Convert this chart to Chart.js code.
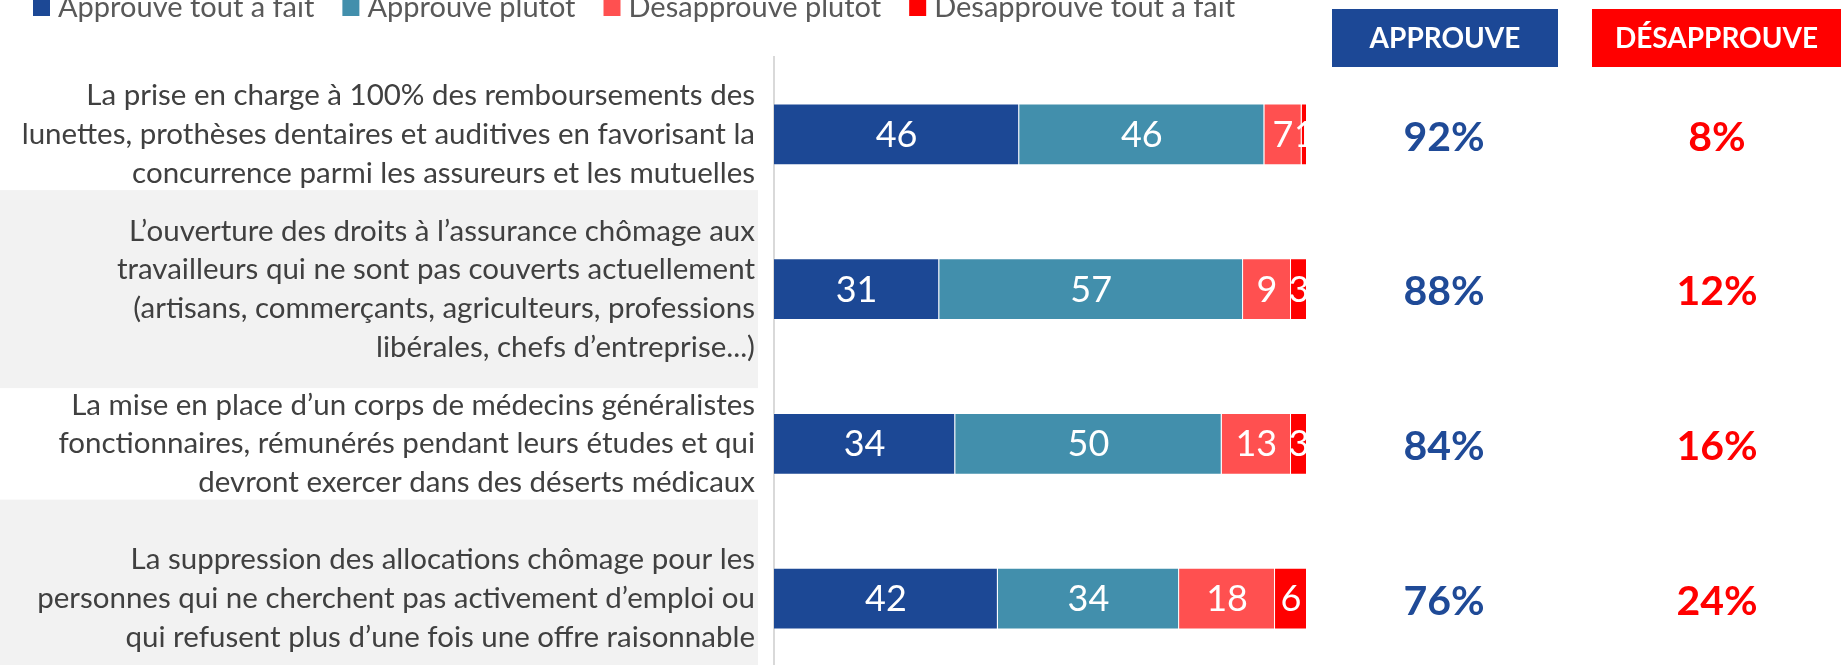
<!DOCTYPE html>
<html>
<head>
<meta charset="utf-8">
<script src="https://cdn.jsdelivr.net/npm/chart.js@4.4.1/dist/chart.umd.min.js"></script>
<style>
  html, body { margin: 0; padding: 0; background: #ffffff; overflow: hidden; }
  #wrap { position: relative; width: 1841px; height: 665px; overflow: hidden; }
  #c { position: absolute; left: 0; top: 0; }
</style>
</head>
<body>
<div id="wrap"><canvas id="c" width="1841" height="676"></canvas></div>
<script>
const categories = [
  ["La prise en charge à 100% des remboursements des", "lunettes, prothèses dentaires et auditives en favorisant la", "concurrence parmi les assureurs et les mutuelles"],
  ["L’ouverture des droits à l’assurance chômage aux", "travailleurs qui ne sont pas couverts actuellement", "(artisans, commerçants, agriculteurs, professions", "libérales, chefs d’entreprise...)"],
  ["La mise en place d’un corps de médecins généralistes", "fonctionnaires, rémunérés pendant leurs études et qui", "devront exercer dans des déserts médicaux"],
  ["La suppression des allocations chômage pour les", "personnes qui ne cherchent pas activement d’emploi ou", "qui refusent plus d’une fois une offre raisonnable"]
];
const seriesNames = ["Approuve tout a fait", "Approuve plutot", "Desapprouve plutot", "Desapprouve tout a fait"];
const approuveToutAFait = [46, 31, 34, 42];
const approuvePlutot = [46, 57, 50, 34];
const desapprouvePlutot = [7, 9, 13, 18];
const desapprouveToutAFait = [1, 3, 3, 6];
const totalApprouve = [92, 88, 84, 76];
const totalDesapprouve = [8, 12, 16, 24];
const headerLabels = ["APPROUVE", "DÉSAPPROUVE"];

const COLORS = ["#1C4895", "#428FAC", "#FF5050", "#FF0000"];
const BLUE_TEXT = "#1F4A97";
const RED_TEXT = "#FF0000";
const FONT = "Lato, 'Open Sans', sans-serif";

const seriesValues = [approuveToutAFait, approuvePlutot, desapprouvePlutot, desapprouveToutAFait];

const stripePlugin = {
  id: 'stripes',
  beforeDraw(chart) {
    const ctx = chart.ctx;
    const y = chart.scales.y;
    ctx.save();
    ctx.fillStyle = "#F2F2F2";
    [1, 3].forEach(i => {
      const cy = y.getPixelForValue(i);
      ctx.fillRect(0, cy - 99, 758, 198);
    });
    ctx.restore();
  }
};

const valueLabelPlugin = {
  id: 'valueLabels',
  afterDatasetsDraw(chart) {
    const ctx = chart.ctx;
    const area = chart.chartArea;
    ctx.save();
    ctx.beginPath();
    ctx.rect(area.left, area.top, area.right - area.left, area.bottom - area.top);
    ctx.clip();
    ctx.fillStyle = "#FFFFFF";
    ctx.font = "36px " + FONT;
    ctx.textAlign = "center";
    ctx.textBaseline = "middle";
    chart.data.datasets.forEach((ds, di) => {
      const meta = chart.getDatasetMeta(di);
      meta.data.forEach((el, i) => {
        const v = ds.data[i];
        const cx = (el.x + el.base) / 2;
        ctx.fillText(String(v), cx, el.y + 1);
      });
    });
    ctx.restore();
  }
};

const sidePlugin = {
  id: 'side',
  afterDraw(chart) {
    const ctx = chart.ctx;
    const y = chart.scales.y;
    ctx.save();
    // legend
    ctx.font = "29px " + FONT;
    ctx.textBaseline = "alphabetic";
    ctx.textAlign = "left";
    let x = 33;
    chart.data.datasets.forEach(ds => {
      ctx.fillStyle = ds.backgroundColor;
      ctx.fillRect(x, -1, 17, 17);
      x += 17 + 8;
      ctx.fillStyle = "#595959";
      ctx.fillText(ds.label, x, 17);
      x += ctx.measureText(ds.label).width + 28;
    });
    // header boxes
    const boxes = [
      { l: 1332, r: 1558, c: "#1C4896" },
      { l: 1592, r: 1841, c: "#FF0000" }
    ];
    ctx.font = "bold 28px " + FONT;
    ctx.textAlign = "center";
    ctx.textBaseline = "middle";
    boxes.forEach((b, i) => {
      ctx.fillStyle = b.c;
      ctx.fillRect(b.l, 9, b.r - b.l, 58);
      ctx.fillStyle = "#FFFFFF";
      ctx.fillText(headerLabels[i], (b.l + b.r) / 2, 39);
    });
    // totals
    ctx.font = "bold 41px " + FONT;
    totalApprouve.forEach((v, i) => {
      const cy = y.getPixelForValue(i) + 3;
      ctx.fillStyle = BLUE_TEXT;
      ctx.fillText(v + "%", 1444, cy);
      ctx.fillStyle = RED_TEXT;
      ctx.fillText(totalDesapprouve[i] + "%", 1717, cy);
    });
    ctx.restore();
  }
};

new Chart(document.getElementById('c'), {
  type: 'bar',
  data: {
    labels: categories,
    datasets: seriesValues.map((vals, i) => ({
      label: seriesNames[i],
      data: vals,
      backgroundColor: COLORS[i],
      borderColor: "rgba(255,255,255,0.3)",
      borderWidth: 1,
      borderSkipped: 'start',
      categoryPercentage: 1,
      barPercentage: 0.4
    }))
  },
  options: {
    indexAxis: 'y',
    responsive: false,
    maintainAspectRatio: false,
    animation: false,
    devicePixelRatio: 1,
    layout: { padding: { top: 57, right: 534, bottom: 0, left: 0 } },
    plugins: {
      legend: { display: false },
      tooltip: { enabled: false },
      title: { display: false }
    },
    scales: {
      x: {
        stacked: true,
        min: 0,
        max: 100,
        display: false
      },
      y: {
        stacked: true,
        offset: true,
        grid: { display: false, drawTicks: false },
        border: { display: true, color: "#D9D9D9", width: 2 },
        ticks: {
          autoSkip: false,
          padding: 19,
          color: "#404040",
          font: { family: FONT, size: 29.5, lineHeight: 1.31 }
        },
        afterFit(scale) {
          scale.width = 774;
          scale.paddingTop = 0;
          scale.paddingBottom = 0;
        }
      }
    }
  },
  plugins: [stripePlugin, valueLabelPlugin, sidePlugin]
});
</script>
</body>
</html>
